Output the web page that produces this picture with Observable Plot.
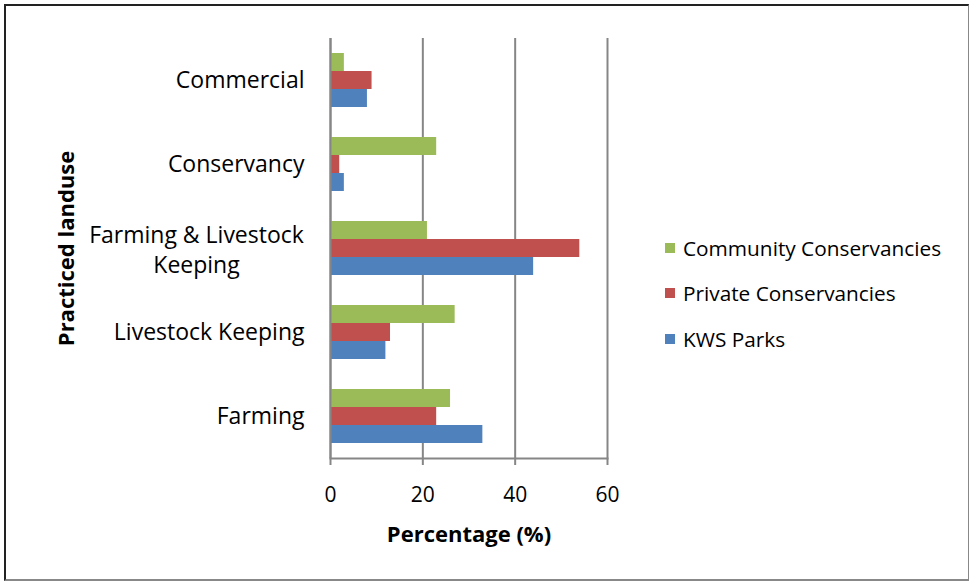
<!DOCTYPE html>
<html><head><meta charset="utf-8">
<script src="https://cdn.jsdelivr.net/npm/d3@7"></script>
<script src="https://cdn.jsdelivr.net/npm/@observablehq/plot@0.6"></script>
<style>
html,body{margin:0;padding:0;background:#fff;}
#wrap{position:relative;width:973px;height:583px;font-family:"Open Sans",Lato,sans-serif;}
#border{position:absolute;left:4px;top:4px;width:965px;height:577px;border-top:2px solid #222;border-left:2px solid #222;border-right:1px solid #888;border-bottom:2px solid #888;box-sizing:border-box;pointer-events:none;}
#legend{position:absolute;left:665px;top:225px;font-size:20.8px;color:#000;}
#legend div{display:flex;align-items:center;height:45.5px;}
#legend span.sw{display:inline-block;width:10px;height:10px;margin-right:8px;}
svg{position:absolute;left:0;top:0;}
</style></head>
<body><div id="wrap"><div id="border"></div><div id="legend"></div></div>
<script>
const categories = ["Commercial", "Conservancy", "Farming & Livestock Keeping", "Livestock Keeping", "Farming"];
const series = ["Community Conservancies", "Private Conservancies", "KWS Parks"];
const colors = ["#9BBB59", "#C0504D", "#4F81BD"];
const community = [3, 23, 21, 27, 26];
const privateCons = [9, 2, 54, 13, 23];
const kwsParks = [8, 3, 44, 12, 33];
const xTicks = [0, 20, 40, 60];

const valuesBySeries = [community, privateCons, kwsParks];
const data = [];
categories.forEach((c, i) => series.forEach((s, j) => data.push({category: c, series: s, value: valuesBySeries[j][i]})));

const wrapped = "Farming & Livestock Keeping";
const font = "'Open Sans', Lato, sans-serif";
const chart = Plot.plot({
  width: 973,
  height: 583,
  marginLeft: 330,
  marginRight: 366,
  marginTop: 36,
  marginBottom: 124,
  style: {fontFamily: font, color: "#000", background: "transparent"},
  x: {domain: [0, 60], axis: null},
  y: {domain: series, paddingInner: 0, paddingOuter: 0.73, axis: null},
  fy: {domain: categories, padding: 0, axis: null},
  color: {domain: series, range: colors},
  marks: [
    Plot.gridX({ticks: xTicks, stroke: "#868686", strokeOpacity: 1, strokeWidth: 2}),
    Plot.barX(data, {x: "value", y: "series", fy: "category", fill: "series"}),
    Plot.ruleX([0], {stroke: "#868686", strokeWidth: 2}),
    Plot.frame({anchor: "bottom", facet: "super", stroke: "#868686", strokeWidth: 2}),
    Plot.axisX({ticks: xTicks, tickSize: 7, tickPadding: 22, stroke: "#868686", strokeWidth: 2, fontSize: 21, label: null}),
    Plot.axisX({ticks: [], label: "Percentage (%)", labelArrow: "none", labelAnchor: "center", labelOffset: 83, fontSize: 22, fontWeight: "bold"}),
    Plot.axisFy({anchor: "left", ticks: categories.filter(c => c !== wrapped), tickSize: 0, tickPadding: 26, fontSize: 23, label: null}),
    Plot.axisFy({anchor: "left", ticks: [wrapped], tickSize: 0, tickPadding: 134, textAnchor: "middle", fontSize: 23, lineHeight: 1.3, label: null,
      tickFormat: () => "Farming & Livestock\nKeeping"}),
    Plot.axisFy({anchor: "left", ticks: [], label: "Practiced landuse", labelArrow: "none", labelAnchor: "center", labelOffset: 272, fontSize: 22, fontWeight: "bold"})
  ]
});
document.getElementById("wrap").appendChild(chart);

const legend = document.getElementById("legend");
series.forEach((s, i) => {
  const row = document.createElement("div");
  row.innerHTML = `<span class="sw" style="background:${colors[i]}"></span><span>${s}</span>`;
  legend.appendChild(row);
});
</script></body></html>
